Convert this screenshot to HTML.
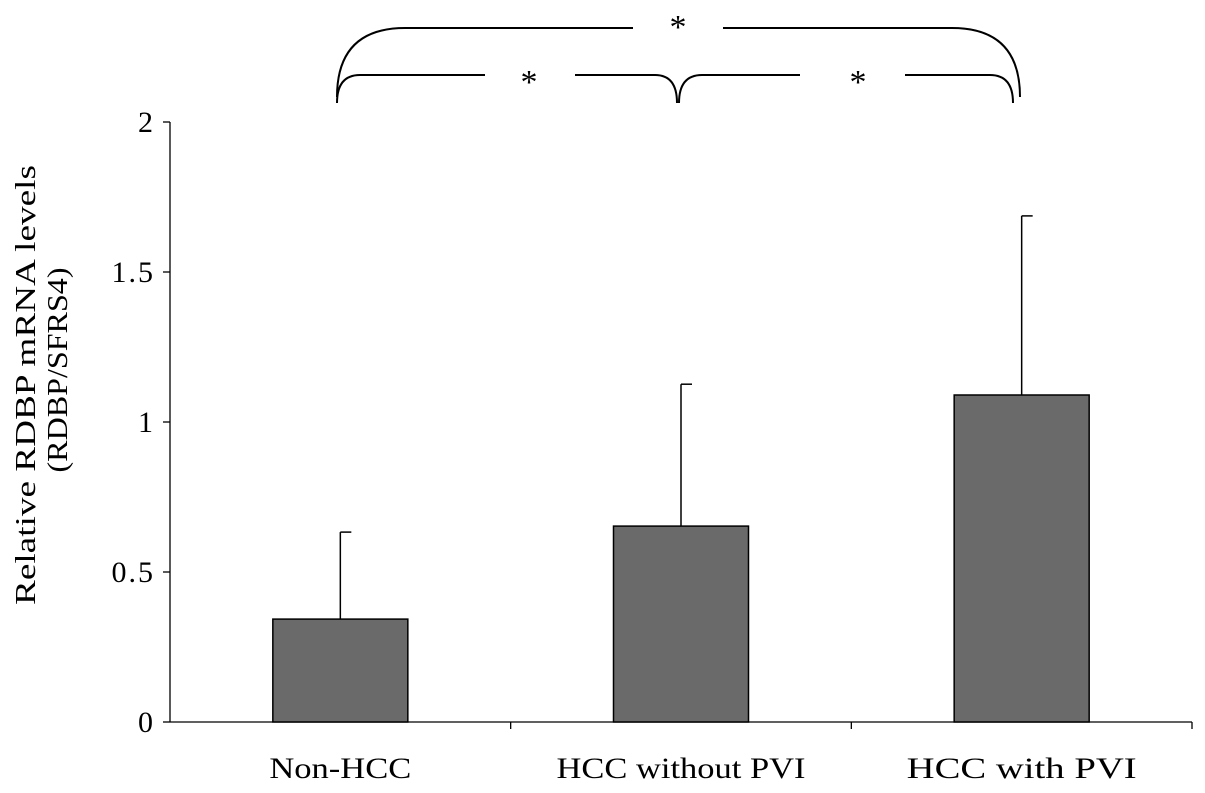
<!DOCTYPE html>
<html><head><meta charset="utf-8"><style>
body{margin:0;background:#fff}
svg text{font-family:"Liberation Serif",serif;fill:#000}
</style></head><body>
<svg width="1205" height="788" id="chart">
<g id="brackets" fill="none" stroke="#000" stroke-width="2">
<path d="M337,97 Q337,28 405,28 L633,28 M723,28 L952,28 Q1020,28 1020,97"/>
<path d="M337,103 Q337,75 360,75 L485,75 M575,75 L655,75 Q677,75 677,103"/>
<path d="M679,103 Q679,75 702,75 L800,75 M905,75 L990,75 Q1013,75 1013,103"/>
</g>
<text x="678" y="38" font-size="34" text-anchor="middle">*</text>
<text x="529" y="93" font-size="34" text-anchor="middle">*</text>
<text x="858" y="93" font-size="34" text-anchor="middle">*</text>
<text transform="translate(35,385) rotate(-90)" font-size="28" text-anchor="middle" textLength="440" lengthAdjust="spacingAndGlyphs">Relative RDBP mRNA  levels</text>
<text transform="translate(67,370) rotate(-90)" font-size="28" text-anchor="middle" textLength="205" lengthAdjust="spacingAndGlyphs">(RDBP/SFRS4)</text>
</svg>
<script>
const categories=["Non-HCC","HCC without PVI","HCC with PVI"];
const means=[0.343,0.653,1.09];
const errors=[0.29,0.473,0.597];
const yTicks=[0,0.5,1,1.5,2];
const yTickLabels=["0","0.5","1","1.5","2"];
const NS="http://www.w3.org/2000/svg";
const svg=document.getElementById('chart');
const x0=170,x1=1192,yBase=722,yTop=122,yMax=2;
const y=v=>yBase-(v/yMax)*(yBase-yTop);
const band=(x1-x0)/categories.length;
const xc=i=>x0+band*(i+0.5);
const labelW=[142,249,230];
function mk(tag,attrs){const e=document.createElementNS(NS,tag);for(const k in attrs)e.setAttribute(k,attrs[k]);svg.appendChild(e);return e;}
let e=mk('line',{x1:x0,y1:yTop,x2:x0,y2:yBase,stroke:'#000','stroke-width':1.3});


e=mk('line',{x1:x0,y1:yBase,x2:x1,y2:yBase,stroke:'#000','stroke-width':1.3});


yTicks.forEach((t,i)=>{
 let l=mk('line',{x1:x0-7,y1:y(t),x2:x0,y2:y(t),stroke:'#000','stroke-width':1.3});
 
 
 let tx=mk('text',{x:x0-15,y:y(t)+10,'font-size':30,'text-anchor':'end','letter-spacing':2});
 tx.textContent=yTickLabels[i];
 
 
});
for(let i=1;i<=categories.length;i++){
 let l=mk('line',{x1:x0+band*i,y1:yBase,x2:x0+band*i,y2:yBase+7,stroke:'#000','stroke-width':1.3});
 
 
}
const bw=135;
categories.forEach((c,i)=>{
 let eb=mk('line',{x1:xc(i),y1:y(means[i]+errors[i]),x2:xc(i),y2:y(means[i]),stroke:'#000','stroke-width':1.5});
 
 
 let cap=mk('line',{x1:xc(i),y1:y(means[i]+errors[i]),x2:xc(i)+11,y2:y(means[i]+errors[i]),stroke:'#000','stroke-width':1.5});
 
 
 let r=mk('rect',{x:xc(i)-bw/2,y:y(means[i]),width:bw,height:yBase-y(means[i]),fill:'#6a6a6a',stroke:'#000','stroke-width':1.5});
 
 
 let t=mk('text',{x:xc(i),y:778,'font-size':30,'text-anchor':'middle'});
 t.textContent=c;
 t.setAttribute('textLength',labelW[i]);
 t.setAttribute('lengthAdjust','spacingAndGlyphs');
 
 
});
</script>
</body></html>
